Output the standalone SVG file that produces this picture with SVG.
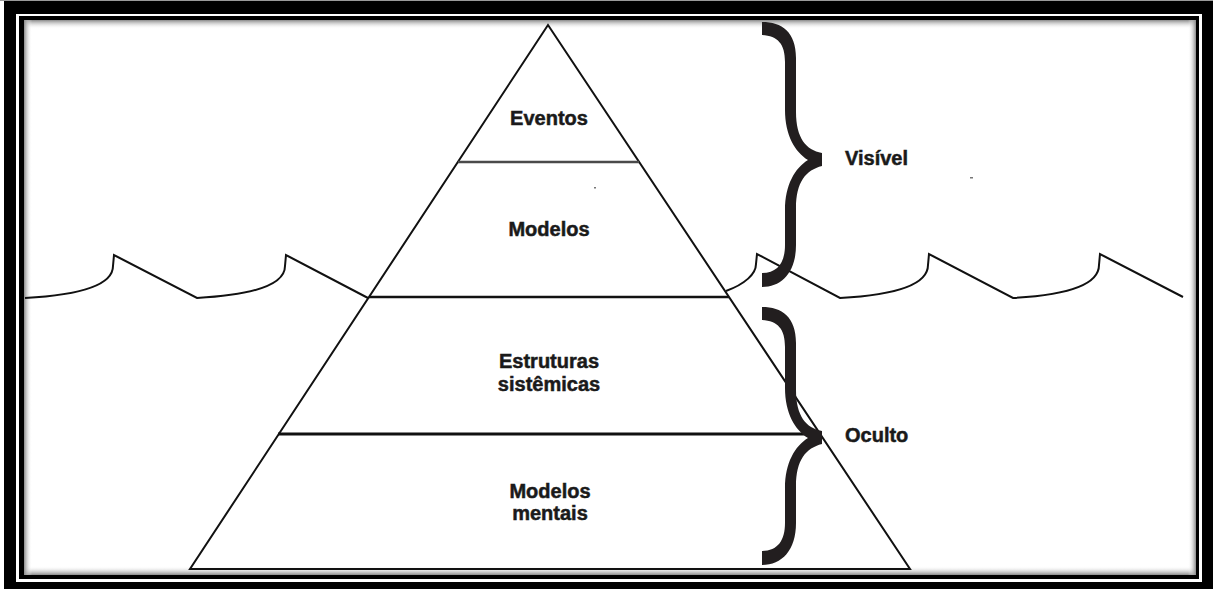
<svg xmlns="http://www.w3.org/2000/svg" width="1213" height="589" viewBox="0 0 1213 589">
  <defs>
    <linearGradient id="shadeTop" x1="0" y1="0" x2="0" y2="1">
      <stop offset="0" stop-color="#8a8a8a" stop-opacity="1"/>
      <stop offset="1" stop-color="#ffffff" stop-opacity="0"/>
    </linearGradient>
    <linearGradient id="shadeBottom" x1="0" y1="1" x2="0" y2="0">
      <stop offset="0" stop-color="#8a8a8a" stop-opacity="1"/>
      <stop offset="1" stop-color="#ffffff" stop-opacity="0"/>
    </linearGradient>
    <linearGradient id="shadeLeft" x1="0" y1="0" x2="1" y2="0">
      <stop offset="0" stop-color="#8a8a8a" stop-opacity="1"/>
      <stop offset="1" stop-color="#ffffff" stop-opacity="0"/>
    </linearGradient>
    <linearGradient id="shadeRight" x1="1" y1="0" x2="0" y2="0">
      <stop offset="0" stop-color="#8a8a8a" stop-opacity="1"/>
      <stop offset="1" stop-color="#ffffff" stop-opacity="0"/>
    </linearGradient>
  </defs>
  <style>
    .edge { fill: none; stroke: #111; stroke-width: 2; stroke-linejoin: miter; }
    .layer { stroke: #111; stroke-width: 2.5; }
    .wave { fill: none; stroke: #111; stroke-width: 2; stroke-linejoin: miter; }
    .brace { fill: #221e1f; }
    .label { font-family: "Liberation Sans", Arial, sans-serif; font-weight: bold; font-size: 20px; fill: #1a1a1a; stroke: #1a1a1a; stroke-width: 0.5; }
    .mid { text-anchor: middle; }
  </style>

  <!-- page frame: thick black border, white rule, thin black rule, shaded inner edge -->
  <g id="frame">
    <rect x="0" y="0" width="1213" height="589" fill="#ffffff"/>
    <rect x="0" y="0" width="1213" height="1" fill="#9a9a9a"/>
    <rect x="4" y="1" width="1209" height="588" fill="#000"/>
    <rect x="16" y="14" width="1186" height="568" fill="#ffffff"/>
    <rect x="19" y="16" width="1180" height="563" fill="#000"/>
    <rect x="24" y="20" width="1172" height="555" fill="#ffffff"/>
    <rect x="24" y="20" width="1172" height="9" fill="url(#shadeTop)"/>
    <rect x="24" y="566" width="1172" height="9" fill="url(#shadeBottom)"/>
    <rect x="24" y="20" width="8" height="555" fill="url(#shadeLeft)"/>
    <rect x="1188" y="20" width="8" height="555" fill="url(#shadeRight)"/>
  </g>

  <!-- water surface -->
  <g id="waves">
    <path class="wave" d="M 25,298 C 80,295 113,285 113,266 L 114,255 L 197,298 C 252,295 285,285 285,266 L 286,255 L 368,298"/>
    <path class="wave" d="M 726,291 C 745,284 756,274 756,264 L 757,254 L 840,298 C 895,295 928,285 928,265 L 929,254 L 1013,298 C 1068,295 1099,285 1099,265 L 1100,254 L 1183,297"/>
  </g>

  <!-- pyramid with its four layers -->
  <g id="pyramid">
    <polygon class="edge" points="548,25 190,569 910,569"/>
  </g>
  <g id="connectors">
    <line x1="458" y1="162" x2="639" y2="162" stroke="#4a4a4a" stroke-width="2.5"/>
    <line class="layer" x1="369" y1="297" x2="729" y2="297"/>
    <line x1="278" y1="434" x2="816" y2="434" stroke="#111" stroke-width="3"/>
  </g>

  <g id="layer-eventos">
    <text class="label mid" x="549" y="125">Eventos</text>
  </g>
  <g id="layer-modelos">
    <text class="label mid" x="549" y="236">Modelos</text>
  </g>
  <g id="layer-estruturas">
    <text class="label mid" x="549" y="368">Estruturas</text>
    <text class="label mid" x="549" y="391">sistêmicas</text>
  </g>
  <g id="layer-modelos-mentais">
    <text class="label mid" x="550" y="498">Modelos</text>
    <text class="label mid" x="550" y="520">mentais</text>
  </g>

  <!-- upper brace: visible part -->
  <g id="brace-visivel">
    <path class="brace" d="M 762,22 C 782,22 796,32 796,58 L 796,112 C 796,138 806,150 822,153 L 822,166 C 806,170 796,182 796,208 L 796,245 C 796,272 782,287 762,287 L 762,273 C 778,273 785,262 785,245 L 785,210 C 785,185 795,168 808,160 C 795,152 785,135 785,110 L 785,62 C 785,44 778,36 762,35 Z"/>
    <text class="label" x="845" y="165">Visível</text>
  </g>

  <!-- lower brace: hidden part -->
  <g id="brace-oculto">
    <path class="brace" d="M 762,307 C 782,307 796,317 796,343 L 796,390 C 796,416 806,428 822,431 L 822,444 C 806,448 796,460 796,486 L 796,523 C 796,550 782,565 762,565 L 762,551 C 778,551 785,540 785,523 L 785,488 C 785,463 795,446 808,438 C 795,430 785,413 785,388 L 785,347 C 785,329 778,321 762,320 Z"/>
    <text class="label" x="845" y="442">Oculto</text>
  </g>

  <!-- small specks in the drawing -->
  <g id="specks" fill="#777">
    <rect x="594" y="187" width="2" height="1.5"/>
    <rect x="970" y="177" width="3" height="1.5"/>
  </g>
</svg>
